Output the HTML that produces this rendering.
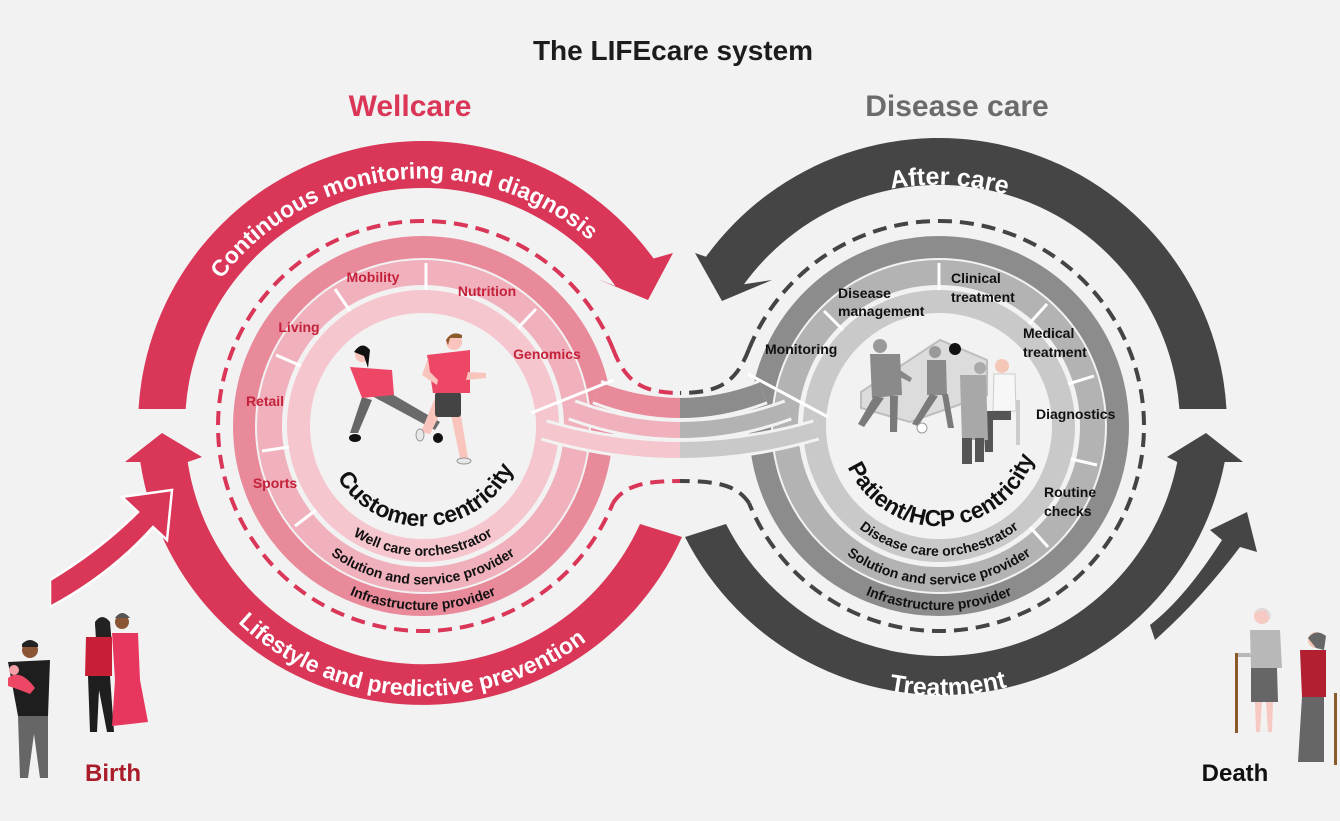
<!DOCTYPE html>
<html><head><meta charset="utf-8"><style>
html,body{margin:0;padding:0;background:#f2f2f2}
svg{display:block}
text{font-family:"Liberation Sans",Arial,sans-serif;font-weight:bold}
</style></head><body>
<svg width="1340" height="821" viewBox="0 0 1340 821" xmlns="http://www.w3.org/2000/svg">
<defs>
<clipPath id="cl"><rect x="0" y="0" width="680" height="821"/></clipPath>
<clipPath id="cr"><rect x="680" y="0" width="660" height="821"/></clipPath>
<path id="tL" d="M171.6 408.4 A253 253 0 0 1 665.2 356.5"/>
<path id="bL" d="M155 459 A270 270 0 0 0 686.1 486.7"/>
<path id="tR" d="M692.5 369.5 A253 253 0 0 1 1185.5 395"/>
<path id="bR" d="M675 482 A270 270 0 0 0 1206.4 463.6"/>
<path id="cL" d="M323.2 433 A100 100 0 0 0 522.9 422.5"/>
<path id="cR" d="M839.2 433 A100 100 0 0 0 1038.9 422.5"/>
<path id="wL1" d="M295.4 448.5 A129.5 129.5 0 0 0 550.6 448.5"/>
<path id="wL2" d="M266.9 453.5 A158.5 158.5 0 0 0 579.1 453.5"/>
<path id="wL3" d="M241.8 458 A184 184 0 0 0 604.2 458"/>
<path id="wR1" d="M811.4 448.5 A129.5 129.5 0 0 0 1066.6 448.5"/>
<path id="wR2" d="M782.9 453.5 A158.5 158.5 0 0 0 1095.1 453.5"/>
<path id="wR3" d="M757.8 458 A184 184 0 0 0 1120.2 458"/>
</defs>
<rect width="1340" height="821" fill="#f2f2f2"/>

<text x="673" y="60" font-size="28" fill="#1c1c1c" text-anchor="middle">The LIFEcare system</text>
<text x="410" y="116" font-size="30" fill="#d93658" text-anchor="middle">Wellcare</text>
<text x="957" y="116" font-size="30" fill="#6b6b6b" text-anchor="middle">Disease care</text>

<g fill="none">
<circle cx="423" cy="426" r="179" stroke="#e98a9b" stroke-width="22"/>
<circle cx="423" cy="426" r="153.5" stroke="#f0b0bc" stroke-width="25"/>
<circle cx="423" cy="426" r="124.5" stroke="#f5c6ce" stroke-width="23"/>
<circle cx="939" cy="426" r="179" stroke="#8c8c8c" stroke-width="22"/>
<circle cx="939" cy="426" r="153.5" stroke="#b3b3b3" stroke-width="25"/>
<circle cx="939" cy="426" r="124.5" stroke="#c9c9c9" stroke-width="23"/>
</g>

<g fill="none" stroke-linecap="butt">
<path d="M597 392 Q680 424 763 392" stroke="#f2f2f2" stroke-width="26"/>
<path d="M572 410 Q680 450 788 410" stroke="#f2f2f2" stroke-width="22"/>
<path d="M544 430 Q680 470 816 430" stroke="#f2f2f2" stroke-width="22"/>
<g clip-path="url(#cl)">
<path d="M597 392 Q680 424 763 392" stroke="#e98a9b" stroke-width="20"/>
<path d="M572 410 Q680 450 788 410" stroke="#f0b0bc" stroke-width="16"/>
<path d="M544 430 Q680 470 816 430" stroke="#f5c6ce" stroke-width="16"/>
</g>
<g clip-path="url(#cr)">
<path d="M597 392 Q680 424 763 392" stroke="#8c8c8c" stroke-width="20"/>
<path d="M572 410 Q680 450 788 410" stroke="#b3b3b3" stroke-width="16"/>
<path d="M544 430 Q680 470 816 430" stroke="#c9c9c9" stroke-width="16"/>
</g>
</g>

<g stroke="#ffffff" stroke-width="3">
<line x1="426" y1="290" x2="426" y2="263"/>
<line x1="350" y1="311" x2="335" y2="289"/>
<line x1="301" y1="366" x2="276" y2="355"/>
<line x1="289" y1="447" x2="262" y2="451"/>
<line x1="316" y1="510" x2="295" y2="526"/>
<line x1="518" y1="328" x2="536" y2="309"/>
<line x1="531" y1="413" x2="614" y2="380"/>
<line x1="939" y1="290" x2="939" y2="263"/>
<line x1="1029" y1="324" x2="1047" y2="304"/>
<line x1="1068" y1="384" x2="1094" y2="376"/>
<line x1="1071" y1="459" x2="1097" y2="465"/>
<line x1="1030" y1="527" x2="1048" y2="547"/>
<line x1="843" y1="330" x2="824" y2="311"/>
<line x1="748" y1="374" x2="828" y2="417"/>
</g>

<g fill="none" stroke-width="4" stroke-dasharray="14 8">
<path d="M613 349 A205 205 0 1 0 613 503" stroke="#d93658"/>
<path d="M613 349 C625 380 640 393 680 393" stroke="#d93658"/>
<path d="M613 503 C625 485 645 481 680 481" stroke="#d93658"/>
<path d="M749 349 A205 205 0 1 1 749 503" stroke="#444"/>
<path d="M749 349 C737 380 722 393 680 393" stroke="#444"/>
<path d="M749 503 C737 485 717 481 680 481" stroke="#444"/>
</g>

<path d="M138.5 409 A285 285 0 0 1 653.6 258.5 L673 253 L648 300 L597 279 L615.5 286 A238 238 0 0 0 185.6 409 Z" fill="#d93658"/>
<path d="M682 537 A285 285 0 0 1 140.3 462 L125 462 L162 433 L202 457 L187.7 462 A238 238 0 0 0 640 524 Z" fill="#d93658"/>
<path d="M1226.5 409 A288 288 0 0 0 706 256.7 L695 253 L722 301 L772 280 L744 284.3 A241 241 0 0 1 1179.4 409 Z" fill="#454545"/>
<path d="M685 537 A288 288 0 0 0 1224.7 462 L1243 462 L1206 433 L1167 457 L1177.3 462 A241 241 0 0 1 726 524 Z" fill="#454545"/>
<path d="M1150 625 Q1185 598 1222 540 L1210 530 L1247 512 L1257 552 L1240 547 Q1200 600 1155 640 Z" fill="#454545"/>
<path d="M50 580 Q100 550 138 512 L122 497 L172 490 L167 540 L153 527 Q110 575 50 607 Z" fill="#d93658" stroke="#ffffff" stroke-width="2.5" stroke-linejoin="miter"/>
<rect x="44" y="575" width="6" height="40" fill="#f2f2f2"/>

<text font-size="23" fill="#fff"><textPath href="#tL" startOffset="50%" text-anchor="middle">Continuous monitoring and diagnosis</textPath></text>
<text font-size="23" fill="#fff"><textPath href="#bL" startOffset="50%" text-anchor="middle">Lifestyle and predictive prevention</textPath></text>
<text font-size="25" fill="#fff"><textPath href="#tR" startOffset="50%" text-anchor="middle">After care</textPath></text>
<text font-size="25" fill="#fff"><textPath href="#bR" startOffset="50%" text-anchor="middle">Treatment</textPath></text>

<text font-size="23" fill="#111"><textPath href="#cL" startOffset="50%" text-anchor="middle">Customer centricity</textPath></text>
<text font-size="23" fill="#111"><textPath href="#cR" startOffset="50%" text-anchor="middle">Patient/HCP centricity</textPath></text>
<g font-size="14" fill="#111">
<text><textPath href="#wL1" startOffset="50%" text-anchor="middle">Well care orchestrator</textPath></text>
<text><textPath href="#wL2" startOffset="50%" text-anchor="middle">Solution and service provider</textPath></text>
<text><textPath href="#wL3" startOffset="50%" text-anchor="middle">Infrastructure provider</textPath></text>
<text><textPath href="#wR1" startOffset="50%" text-anchor="middle">Disease care orchestrator</textPath></text>
<text><textPath href="#wR2" startOffset="50%" text-anchor="middle">Solution and service provider</textPath></text>
<text><textPath href="#wR3" startOffset="50%" text-anchor="middle">Infrastructure provider</textPath></text>
</g>

<g font-size="14" fill="#c4213a" text-anchor="middle">
<text x="373" y="282">Mobility</text>
<text x="487" y="296">Nutrition</text>
<text x="299" y="332">Living</text>
<text x="547" y="359">Genomics</text>
<text x="265" y="406">Retail</text>
<text x="275" y="488">Sports</text>
</g>
<g font-size="14" fill="#111">
<text x="838" y="298">Disease</text><text x="838" y="316">management</text>
<text x="951" y="283">Clinical</text><text x="951" y="302">treatment</text>
<text x="1023" y="338">Medical</text><text x="1023" y="357">treatment</text>
<text x="765" y="354">Monitoring</text>
<text x="1036" y="419">Diagnostics</text>
<text x="1044" y="497">Routine</text><text x="1044" y="516">checks</text>
</g>

<g>
<path d="M362 397 L350 433 L358 433 L372 400 Z" fill="#666"/>
<path d="M370 395 L435 430 L440 422 L385 390 Z" fill="#6a6a6a"/>
<ellipse cx="355" cy="438" rx="6" ry="4" fill="#111"/>
<ellipse cx="438" cy="438" rx="5" ry="5" fill="#111"/>
<path d="M350 367 L392 370 L394 395 L362 398 Z" fill="#ee4766"/>
<circle cx="362" cy="355" r="7" fill="#f8c4bc"/>
<path d="M354 352 Q362 340 370 350 L368 368 L364 356 Z" fill="#111"/>
<path d="M437 393 L421 432 L430 434 L447 400 Z" fill="#f8c4bc"/>
<path d="M448 400 L460 458 L468 458 L458 398 Z" fill="#f8c4bc"/>
<ellipse cx="420" cy="435" rx="4" ry="6" fill="#e8e8e8" stroke="#999"/>
<ellipse cx="464" cy="461" rx="7" ry="3" fill="#e8e8e8" stroke="#999"/>
<rect x="435" y="392" width="26" height="25" rx="3" fill="#444"/>
<path d="M427 355 L470 350 L470 393 L433 393 Z" fill="#ee4766"/>
<path d="M468 372 L486 373 L486 378 L466 380 Z" fill="#f8c4bc"/>
<path d="M428 358 L422 375 L437 385 L438 380 L430 372 Z" fill="#f8c4bc"/>
<circle cx="454" cy="342" r="8" fill="#f8c4bc"/>
<path d="M446 340 Q452 330 462 335 L462 338 L450 338 L448 345 Z" fill="#8a5a2b"/>
</g>

<g>
<path d="M861 392 L940 340 L987 360 L987 395 L910 422 L861 408 Z" fill="#dcdcdc" stroke="#bdbdbd" stroke-width="2"/>
<circle cx="955" cy="349" r="6" fill="#111"/>
<circle cx="880" cy="346" r="7" fill="#9a9a9a"/>
<path d="M870 354 L900 354 L902 395 L872 398 Z" fill="#8a8a8a"/>
<path d="M874 396 L858 424 L864 427 L884 398 Z M890 396 L890 432 L897 432 L898 396 Z" fill="#7a7a7a"/>
<path d="M900 370 L912 378 L910 382 L898 376 Z" fill="#888"/>
<circle cx="935" cy="352" r="6" fill="#9a9a9a"/>
<path d="M927 360 L946 360 L947 395 L927 395 Z" fill="#8a8a8a"/>
<path d="M930 394 L912 424 L918 426 L938 396 Z M942 394 L948 428 L954 428 L948 394 Z" fill="#7a7a7a"/>
<circle cx="922" cy="428" r="5" fill="#fff" stroke="#999"/>
<path d="M1008 400 L1020 400 L1020 445 L1016 445 L1016 410 L1008 410 Z" fill="#ccc"/>
<circle cx="1002" cy="366" r="7" fill="#f4c6b8"/>
<path d="M994 374 L1015 374 L1016 411 L993 411 Z" fill="#f7f7f7" stroke="#ccc"/>
<path d="M983 411 L1011 411 L1011 420 L993 420 L993 452 L985 452 Z" fill="#555"/>
<circle cx="980" cy="368" r="6" fill="#aaa"/>
<path d="M960 375 L986 375 L988 440 L962 440 Z" fill="#a8a8a8"/>
<path d="M962 438 L972 438 L972 464 L962 464 Z M975 438 L984 438 L984 462 L975 462 Z" fill="#555"/>
</g>

<g>
<circle cx="30" cy="650" r="8" fill="#8a5534"/>
<path d="M22 644 Q30 636 38 644 L38 647 L22 647 Z" fill="#222"/>
<path d="M8 662 L50 660 L48 716 L18 716 Z" fill="#1e1e1e"/>
<path d="M18 716 L48 716 L48 778 L40 778 L34 734 L28 778 L20 778 Z" fill="#666"/>
<path d="M8 678 Q20 668 35 688 L30 694 Q15 688 8 686 Z" fill="#ee4766"/>
<circle cx="14" cy="670" r="5" fill="#f3a0a8"/>
<circle cx="102" cy="625" r="7" fill="#6b3a22"/>
<path d="M95 622 Q102 612 110 622 L112 645 L96 640 Z" fill="#222"/>
<path d="M86 637 L112 637 L112 676 L85 676 Z" fill="#c81e36"/>
<path d="M88 676 L110 676 L114 732 L107 732 L99 690 L97 732 L90 732 Z" fill="#1e1e1e"/>
<circle cx="122" cy="622" r="7" fill="#8a5534"/>
<path d="M115 618 Q122 608 130 618 Z" fill="#555"/>
<path d="M112 633 L138 633 L140 680 L148 722 L112 726 L115 680 Z" fill="#e8375f"/>
</g>
<text x="113" y="781" font-size="24" fill="#a91d2a" text-anchor="middle">Birth</text>

<g>
<circle cx="1262" cy="616" r="8" fill="#f7c9c3"/>
<path d="M1254 614 Q1262 602 1271 614 L1270 620 L1266 610 L1256 612 Z" fill="#ddd"/>
<path d="M1250 630 L1280 630 L1282 668 L1251 668 Z" fill="#b8b8b8"/>
<path d="M1250 653 L1236 653 L1236 657 L1251 657 Z" fill="#b8b8b8"/>
<path d="M1251 668 L1277 668 L1278 702 L1251 702 Z" fill="#666"/>
<path d="M1255 702 L1262 702 L1260 732 L1256 732 Z M1266 702 L1273 702 L1272 732 L1268 732 Z" fill="#f7c9c3"/>
<rect x="1235" y="653" width="3" height="80" fill="#8a5a2b"/>
<circle cx="1316" cy="640" r="8" fill="#f4c6b8"/>
<path d="M1308 638 Q1316 628 1326 636 L1324 650 L1316 648 Z" fill="#666"/>
<path d="M1300 650 L1326 650 L1326 697 L1302 697 Z" fill="#b21f30"/>
<path d="M1302 697 L1324 697 L1324 762 L1298 762 Z" fill="#666"/>
<rect x="1334" y="693" width="3" height="72" fill="#8a5a2b"/>
</g>
<text x="1235" y="781" font-size="24" fill="#111" text-anchor="middle">Death</text>
</svg>
</body></html>
